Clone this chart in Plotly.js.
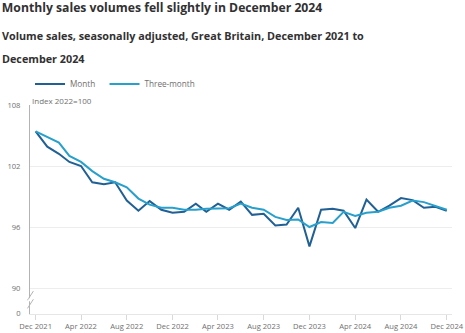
<!DOCTYPE html>
<html>
<head>
<meta charset="utf-8">
<script src="https://cdn.plot.ly/plotly-3.0.1.min.js"></script>
<style>
html,body{margin:0;padding:0;background:#fff;}
#chart{width:465px;height:333px;}
</style>
</head>
<body>
<div id="chart"></div>
<script>
// Months: Dec 2021 .. Dec 2024
const months = [
  "2021-12-01","2022-01-01","2022-02-01","2022-03-01","2022-04-01","2022-05-01","2022-06-01",
  "2022-07-01","2022-08-01","2022-09-01","2022-10-01","2022-11-01","2022-12-01",
  "2023-01-01","2023-02-01","2023-03-01","2023-04-01","2023-05-01","2023-06-01",
  "2023-07-01","2023-08-01","2023-09-01","2023-10-01","2023-11-01","2023-12-01",
  "2024-01-01","2024-02-01","2024-03-01","2024-04-01","2024-05-01","2024-06-01",
  "2024-07-01","2024-08-01","2024-09-01","2024-10-01","2024-11-01","2024-12-01"
];
const monthValues = [
  105.4,103.9,103.2,102.4,102.0,100.4,100.2,
  100.4,98.6,97.6,98.55,97.7,97.4,
  97.5,98.3,97.5,98.3,97.7,98.5,
  97.2,97.3,96.15,96.25,97.9,94.1,
  97.7,97.8,97.6,95.9,98.7,97.5,
  98.1,98.85,98.65,97.9,98.0,97.6
];
const threeMonthValues = [
  105.4,104.85,104.3,103.0,102.4,101.5,100.75,
  100.4,99.9,98.8,98.2,97.9,97.9,
  97.7,97.7,97.8,97.85,97.85,98.3,
  97.9,97.7,97.0,96.7,96.75,96.0,
  96.5,96.4,97.5,97.1,97.4,97.5,
  97.9,98.1,98.6,98.45,98.1,97.7
];
const seriesNames = ["Month", "Three-month"];
const yTickVals = [87.5, 90, 96, 102, 108];
const yTickText = ["0", "90", "96", "102", "108"];

const FONT = "'Open Sans', 'Noto Sans', sans-serif";

const traces = [
  {x: months, y: monthValues, name: seriesNames[0] + "\u00a0\u00a0", type: "scatter", mode: "lines",
   line: {color: "#206095", width: 2}},
  {x: months, y: threeMonthValues, name: seriesNames[1], type: "scatter", mode: "lines",
   line: {color: "#27a0cc", width: 2}}
];

const layout = {
  width: 465, height: 333,
  margin: {l: 30, r: 13, t: 105, b: 19},
  paper_bgcolor: "#fff", plot_bgcolor: "#fff",
  font: {family: FONT, color: "#707070", size: 8},
  title: {
    text: "<b>Monthly sales volumes fell slightly in December 2024</b>",
    font: {family: FONT, size: 12.2, color: "#323132"},
    x: 0.004, xref: "container", xanchor: "left",
    y: 1 - 8/333, yref: "container", yanchor: "middle"
  },
  annotations: [
    {text: "<b>Volume sales, seasonally adjusted, Great Britain, December 2021 to</b>",
     xref: "paper", yref: "paper", x: -30/422, y: 1 + (105-36)/209,
     xanchor: "left", yanchor: "middle", showarrow: false,
     font: {family: FONT, size: 10.8, color: "#323132"}},
    {text: "<b>December 2024</b>",
     xref: "paper", yref: "paper", x: -30/422, y: 1 + (105-58)/209,
     xanchor: "left", yanchor: "middle", showarrow: false,
     font: {family: FONT, size: 10.8, color: "#323132"}},
    {text: "Index 2022=100",
     xref: "paper", yref: "paper", x: 0, y: 1 + (105-100)/209,
     xanchor: "left", yanchor: "middle", showarrow: false,
     font: {family: FONT, size: 8, color: "#707070"}}
  ],
  showlegend: true,
  legend: {
    orientation: "h", x: 0, xanchor: "left", y: 1 + (105-84)/209, yanchor: "middle",
    font: {family: FONT, size: 8.2, color: "#707070"}
  },
  xaxis: {
    type: "date",
    range: ["2021-11-16", "2024-12-15"],
    tick0: "2021-12-01", dtick: "M4", tickformat: "%b %Y",
    showgrid: false, zeroline: false,
    showline: true, linecolor: "#e6e6e6", linewidth: 1,
    ticks: "outside", ticklen: 5, tickcolor: "#d9d9d9",
    tickfont: {family: FONT, size: 7.6, color: "#707070"},
    fixedrange: true
  },
  yaxis: {
    range: [87.45, 108],
    tickvals: yTickVals, ticktext: yTickText,
    showgrid: true, gridcolor: "#ededed", gridwidth: 1,
    zeroline: false,
    showline: true, linecolor: "#b3b3b3", linewidth: 1,
    ticks: "", ticklabelstandoff: 7,
    tickfont: {family: FONT, size: 7.6, color: "#707070"},
    fixedrange: true
  },
  shapes: [
    // axis break marks
    {type: "line", xref: "paper", yref: "y", x0: -0.006, x1: 0.008, y0: 88.8, y1: 89.7,
     line: {color: "#b3b3b3", width: 1}},
    {type: "line", xref: "paper", yref: "y", x0: -0.006, x1: 0.008, y0: 88.0, y1: 88.9,
     line: {color: "#b3b3b3", width: 1}},
    {type: "line", xref: "paper", yref: "y", x0: -0.003, x1: 0.003, y0: 88.85, y1: 88.85,
     line: {color: "#ffffff", width: 3}, layer: "above"}
  ]
};

Plotly.newPlot("chart", traces, layout, {displayModeBar: false, staticPlot: true});
</script>
</body>
</html>
